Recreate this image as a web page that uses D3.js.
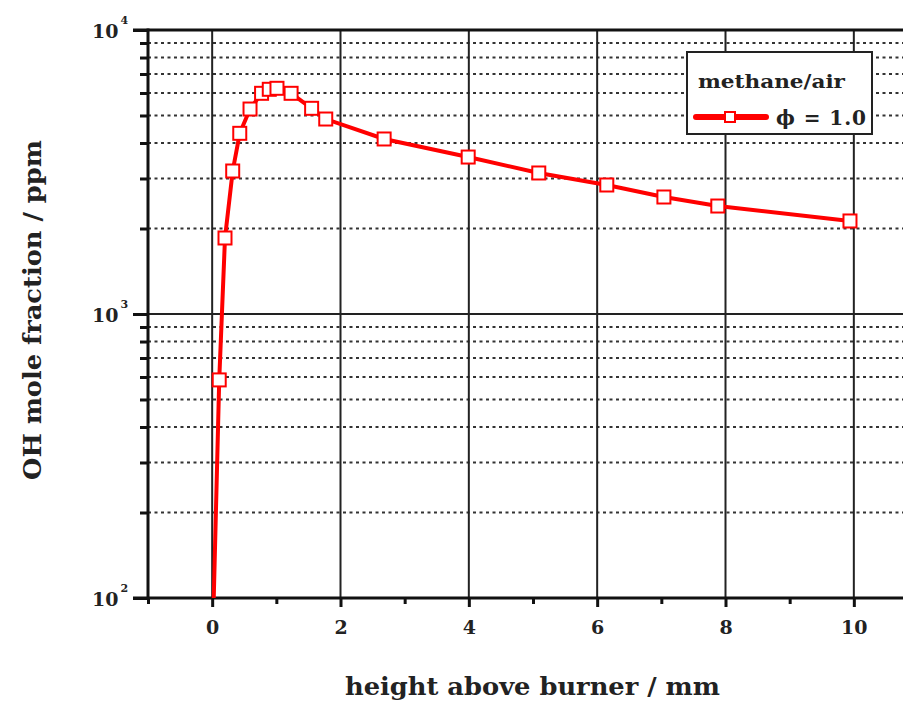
<!DOCTYPE html>
<html>
<head>
<meta charset="utf-8">
<script src="https://cdn.jsdelivr.net/npm/d3@7"></script>
<style>
    body { margin: 0; background: #fff; }
    text { font-family: "DejaVu Serif", serif; font-weight: bold; fill: #222; }
</style>
</head>
<body>
<div id="chart"></div>
<script>
// height above burner (mm) and OH mole fraction (ppm)
const height_mm = [0.0, 0.11, 0.20, 0.32, 0.43, 0.59, 0.77, 0.89, 1.01, 1.23, 1.55, 1.77, 2.68, 3.99, 5.09, 6.15, 7.04, 7.88, 9.94];
const oh_ppm = [60, 586, 1852, 3188, 4327, 5269, 5985, 6183, 6233, 5985, 5300, 4859, 4133, 3570, 3137, 2846, 2582, 2400, 2126];
// first point lies below the axis; only the line shows there
const has_marker = [false, true, true, true, true, true, true, true, true, true, true, true, true, true, true, true, true, true, true];

const x_major = [0, 2, 4, 6, 8, 10];
const x_minor = [-1, 1, 3, 5, 7, 9];
const y_decades = [2, 3, 4];
const legend_title = 'methane/air';
const legend_label = '\u03d5 = 1.0';

let dims = {
    width: 903,
    height: 707,
    top: 30,
    left: 148,
    bottom: 598,
    right: 918,
};

let svg = d3.select('#chart')
    .append('svg')
    .attr('width', dims.width)
    .attr('height', dims.height);

const x = d3.scaleLinear()
    .domain([-1, 11])
    .range([dims.left, dims.right]);

const y = d3.scaleLog()
    .domain([100, 10000])
    .range([dims.bottom, dims.top]);

// minor y values 2..9 in each decade
let y_minor = [];
for (let d = 2; d < 4; d++) {
    for (let m = 2; m <= 9; m++) {
        y_minor.push(m * Math.pow(10, d));
    }
}

svg.append('defs').append('clipPath')
    .attr('id', 'plot-clip')
    .append('rect')
    .attr('x', dims.left)
    .attr('y', dims.top)
    .attr('width', dims.right - dims.left)
    .attr('height', dims.bottom - dims.top);

// dotted minor grid
svg.append('g')
    .selectAll('line')
    .data(y_minor)
    .join('line')
        .attr('x1', dims.left)
        .attr('x2', dims.right)
        .attr('y1', (d) => y(d))
        .attr('y2', (d) => y(d))
        .attr('stroke', '#333')
        .attr('stroke-width', 2)
        .attr('stroke-dasharray', '3,3.5');

// solid major grid
svg.append('g')
    .selectAll('line')
    .data(x_major)
    .join('line')
        .attr('x1', (d) => x(d))
        .attr('x2', (d) => x(d))
        .attr('y1', dims.top)
        .attr('y2', dims.bottom)
        .attr('stroke', '#222')
        .attr('stroke-width', 2);

svg.append('g')
    .selectAll('line')
    .data([1000])
    .join('line')
        .attr('x1', dims.left)
        .attr('x2', dims.right)
        .attr('y1', (d) => y(d))
        .attr('y2', (d) => y(d))
        .attr('stroke', '#222')
        .attr('stroke-width', 2);

// axes
const x_axis = svg.append('g')
    .attr('transform', `translate(0, ${dims.bottom})`)
    .call(d3.axisBottom(x).tickValues(x_major).tickSize(9).tickPadding(14).tickFormat(d3.format('d')));
x_axis.selectAll('.tick text').attr('font-size', 19).style('fill', '#222');
svg.append('g')
    .attr('transform', `translate(0, ${dims.bottom})`)
    .call(d3.axisBottom(x).tickValues(x_minor).tickSize(6).tickFormat(''));

svg.append('g')
    .attr('transform', `translate(${dims.left}, 0)`)
    .call(d3.axisLeft(y).tickValues(y_decades.map((d) => Math.pow(10, d))).tickSize(15).tickFormat(''));
svg.append('g')
    .attr('transform', `translate(${dims.left}, 0)`)
    .call(d3.axisLeft(y).tickValues(y_minor).tickSize(8).tickFormat(''));

svg.selectAll('.domain').remove();
svg.selectAll('.tick line').attr('stroke', '#111').attr('stroke-width', 3);

// frame lines
svg.append('line')
    .attr('x1', dims.left).attr('x2', dims.left)
    .attr('y1', dims.top - 1.5).attr('y2', dims.bottom + 1.5)
    .attr('stroke', '#111').attr('stroke-width', 3);
svg.append('line')
    .attr('x1', dims.left - 15).attr('x2', dims.right)
    .attr('y1', dims.top).attr('y2', dims.top)
    .attr('stroke', '#111').attr('stroke-width', 3);
svg.append('line')
    .attr('x1', dims.left - 15).attr('x2', dims.right)
    .attr('y1', dims.bottom).attr('y2', dims.bottom)
    .attr('stroke', '#111').attr('stroke-width', 3);

// y tick labels 10^n
const ylab = svg.append('g')
    .selectAll('text')
    .data(y_decades)
    .join('text')
        .attr('x', 92)
        .attr('y', (d) => y(Math.pow(10, d)) + 8)
        .attr('font-size', 19);
ylab.append('tspan').text('10');
ylab.append('tspan')
    .attr('dy', -14)
    .attr('dx', 2)
    .attr('font-size', 11)
    .text((d) => d);

// axis titles
svg.append('text')
    .attr('x', 345)
    .attr('y', 695)
    .attr('font-size', 24)
    .attr('textLength', 375)
    .attr('lengthAdjust', 'spacingAndGlyphs')
    .text('height above burner / mm');

svg.append('text')
    .attr('transform', 'translate(41, 480) rotate(-90)')
    .attr('font-size', 24)
    .attr('textLength', 340)
    .attr('lengthAdjust', 'spacingAndGlyphs')
    .text('OH mole fraction / ppm');

// data
const plot = svg.append('g').attr('clip-path', 'url(#plot-clip)');
const points = height_mm.map((h, i) => ({ h: h, v: oh_ppm[i], m: has_marker[i] }));

plot.append('path')
    .datum(points)
    .attr('fill', 'none')
    .attr('stroke', '#ff0000')
    .attr('stroke-width', 4)
    .attr('d', d3.line().x((d) => x(d.h)).y((d) => y(d.v)));

plot.selectAll('.marker')
    .data(points.filter((d) => d.m))
    .join('rect')
        .attr('class', 'marker')
        .attr('x', (d) => x(d.h) - 6.5)
        .attr('y', (d) => y(d.v) - 6.5)
        .attr('width', 13)
        .attr('height', 13)
        .attr('fill', '#fff')
        .attr('stroke', '#ff0000')
        .attr('stroke-width', 2);

// legend
const legend = svg.append('g');
legend.append('rect')
    .attr('x', 687).attr('y', 52)
    .attr('width', 185).attr('height', 82)
    .attr('fill', '#fff')
    .attr('stroke', '#222')
    .attr('stroke-width', 2);
legend.append('text')
    .attr('x', 698).attr('y', 88)
    .attr('font-size', 19)
    .attr('textLength', 147)
    .attr('lengthAdjust', 'spacingAndGlyphs')
    .text(legend_title);
legend.append('line')
    .attr('x1', 696).attr('x2', 766)
    .attr('y1', 117).attr('y2', 117)
    .attr('stroke', '#ff0000')
    .attr('stroke-width', 6)
    .attr('stroke-linecap', 'round');
legend.append('rect')
    .attr('x', 725).attr('y', 112)
    .attr('width', 10).attr('height', 10)
    .attr('fill', '#fff')
    .attr('stroke', '#ff0000')
    .attr('stroke-width', 2);
legend.append('text')
    .attr('x', 776).attr('y', 125)
    .attr('font-size', 20)
    .attr('textLength', 90)
    .attr('lengthAdjust', 'spacing')
    .text(legend_label);
</script>
</body>
</html>
